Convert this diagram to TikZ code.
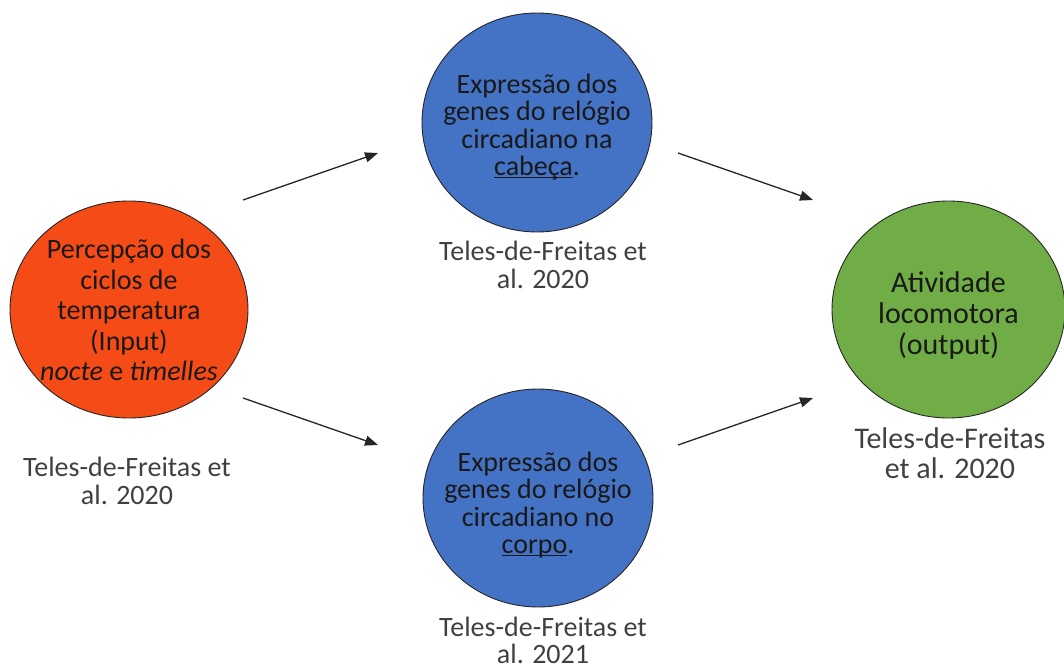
\documentclass[tikz,border=0pt]{standalone}
\usepackage{fontspec}
\setmainfont{Carlito}
\usetikzlibrary{arrows.meta,shapes.geometric}
\definecolor{inred}{HTML}{F54B16}
\definecolor{clkblue}{HTML}{4472C4}
\definecolor{outgreen}{HTML}{70AD47}
\definecolor{reftext}{HTML}{404040}
\definecolor{arrowgray}{HTML}{262626}
\newcommand\lineunder[1]{{\setbox0\hbox{#1}\rlap{\rule[-2.5pt]{\wd0}{0.9pt}}\box0}}
\tikzset{
  blob/.style={ellipse, draw=black!85, line width=0.9pt, inner sep=0pt},
  blobtext/.style={align=center, text=black!90, inner sep=0pt},
  reftxt/.style={align=center, text=reftext, inner sep=0pt},
  flow/.style={draw=arrowgray, line width=1.3pt, -{Triangle[length=13pt,width=10pt]}}
}
\begin{document}
\begin{tikzpicture}[x=1pt,y=-1pt]
\useasboundingbox (0,0) rectangle (1064,666);
% ellipses
\node[blob, fill=inred, minimum width=238pt, minimum height=217pt] (inp) at (129,309.5) {};
\node[blob, fill=clkblue, minimum width=230pt, minimum height=219pt] (head) at (537,122.5) {};
\node[blob, fill=clkblue, minimum width=230pt, minimum height=218pt] (body) at (538,498) {};
\node[blob, fill=outgreen, minimum width=233pt, minimum height=217pt] (out) at (948.5,309.5) {};
% ellipse texts
\node[blobtext, font=\fontsize{28}{30.5}\selectfont] (inptxt) at (129,310)
  {Percepção dos\\ciclos de\\temperatura\\(Input)\\\textit{nocte} e \textit{timelles}};
\node[blobtext, font=\fontsize{28}{27.5}\selectfont] (headtxt) at (537,127)
  {Expressão dos\\genes do relógio\\circadiano na\\\lineunder{cabeça}.};
\node[blobtext, font=\fontsize{28}{27.5}\selectfont] (bodytxt) at (538,505)
  {Expressão dos\\genes do relógio\\circadiano no\\\lineunder{corpo}.};
\node[blobtext, font=\fontsize{30}{31}\selectfont] (outtxt) at (948.5,315)
  {Atividade\\locomotora\\(output)};
% reference labels
\node[reftxt, font=\fontsize{28}{28}\selectfont] (refinp) at (127,481) {Teles-de-Freitas et\\al. 2020};
\node[reftxt, font=\fontsize{28}{28}\selectfont] (refhead) at (543,265) {Teles-de-Freitas et\\al. 2020};
\node[reftxt, font=\fontsize{28}{27}\selectfont, anchor=south] (refbody) at (543,663.5) {Teles-de-Freitas et\\al. 2021};
\node[reftxt, font=\fontsize{30}{30}\selectfont] (refout) at (950,453) {Teles-de-Freitas\\et al. 2020};
% connector end points
\coordinate (a1s) at (243,200); \coordinate (a1e) at (378,153);
\coordinate (a2s) at (678,153); \coordinate (a2e) at (813,200);
\coordinate (a3s) at (243,398); \coordinate (a3e) at (378,445);
\coordinate (a4s) at (678,445); \coordinate (a4e) at (813,398);
\draw[flow] (a1s) -- (a1e);
\draw[flow] (a2s) -- (a2e);
\draw[flow] (a3s) -- (a3e);
\draw[flow] (a4s) -- (a4e);
\end{tikzpicture}
\end{document}
